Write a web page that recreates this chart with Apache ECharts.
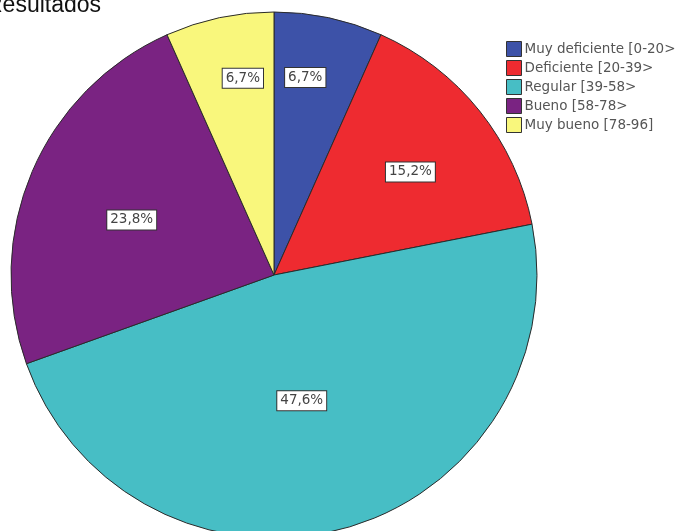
<!DOCTYPE html>
<html>
<head>
<meta charset="utf-8">
<script src="https://cdn.jsdelivr.net/npm/echarts@6/dist/echarts.min.js"></script>
<style>
  html, body { margin: 0; padding: 0; background: #fff; }
  #main { width: 698px; height: 531px; }
</style>
</head>
<body>
<div id="main"></div>
<script>
var categories = ['Muy deficiente [0-20>', 'Deficiente [20-39>', 'Regular [39-58>', 'Bueno [58-78>', 'Muy bueno [78-96]'];
var counts = [7, 16, 50, 25, 7];
var colors = ['#3d52a8', '#ee2b30', '#47bec5', '#7a2382', '#f9f77c'];
// where each label box sits: share of the radius, and a small turn in degrees
var labelRadius = [0.76, 0.65, 0.49, 0.58, 0.757];
var labelTurn = [-3, 1.5, 3, -2, 3];

var pieCenter = [274, 275];
var pieRadius = 263;

var chart = echarts.init(document.getElementById('main'));

var data = [];
for (var i = 0; i < categories.length; i++) {
    data.push({ name: categories[i], value: counts[i], itemStyle: { color: colors[i] } });
}

var option = {
    animation: false,
    title: {
        text: 'Resultados',
        left: -19,
        top: -11,
        textStyle: { fontFamily: 'Liberation Sans', fontSize: 23, fontWeight: 'normal', color: '#111' }
    },
    legend: {
        orient: 'vertical',
        left: 501,
        top: 36,
        itemWidth: 15,
        itemHeight: 15,
        itemGap: 3,
        icon: 'rect',
        itemStyle: { borderColor: '#333', borderWidth: 1 },
        textStyle: { fontFamily: 'DejaVu Sans', fontSize: 13.5, color: '#555', padding: [0, 0, 0, -2] },
        data: categories
    },
    series: [{
        type: 'pie',
        center: pieCenter,
        radius: pieRadius,
        startAngle: 90,
        clockwise: true,
        percentPrecision: 1,
        itemStyle: { borderColor: '#2a2a2a', borderWidth: 1 },
        emphasis: { disabled: true },
        label: {
            position: 'inside',
            formatter: function (p) {
                return p.percent.toFixed(1).replace('.', ',') + '%';
            },
            fontFamily: 'DejaVu Sans',
            fontSize: 13.5,
            color: '#444',
            backgroundColor: '#fff',
            borderColor: '#333',
            borderWidth: 1,
            padding: [3, 3, 2, 3]
        },
        labelLayout: function (p) {
            var r = p.labelRect;
            var mx = r.x + r.width / 2 - pieCenter[0];
            var my = r.y + r.height / 2 - pieCenter[1];
            var a = Math.atan2(my, mx) + labelTurn[p.dataIndex] * Math.PI / 180;
            var d = labelRadius[p.dataIndex] * pieRadius;
            return {
                x: pieCenter[0] + Math.cos(a) * d,
                y: pieCenter[1] + Math.sin(a) * d,
                align: 'center',
                verticalAlign: 'middle'
            };
        },
        data: data
    }]
};

chart.setOption(option);
</script>
</body>
</html>
